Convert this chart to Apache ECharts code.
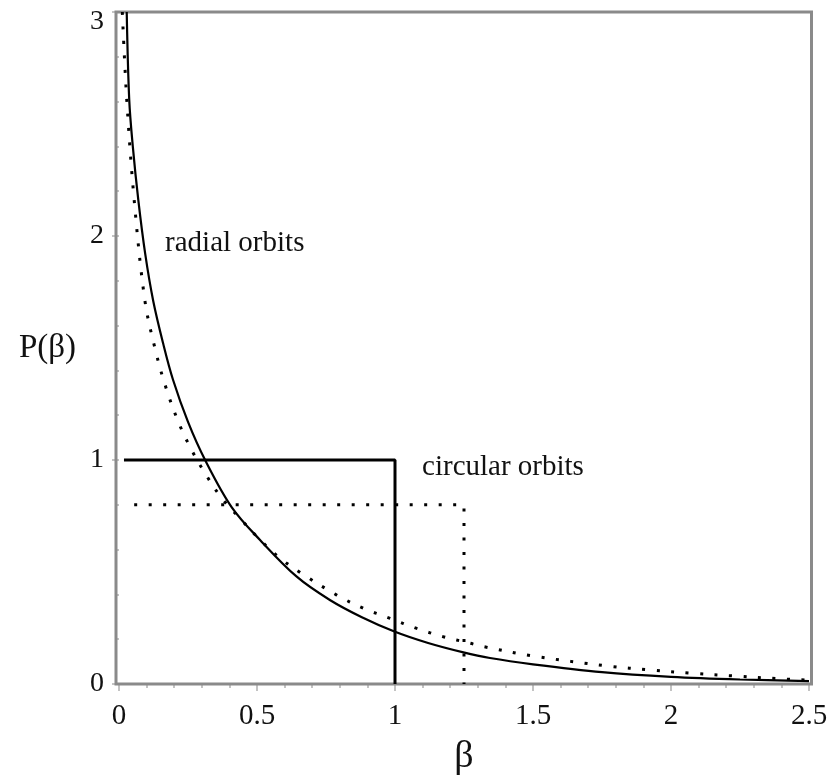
<!DOCTYPE html>
<html>
<head>
<meta charset="utf-8">
<script src="https://cdn.jsdelivr.net/npm/echarts@6/dist/echarts.min.js"></script>
<style>
  html, body { margin: 0; padding: 0; background: #fff; }
  #chart { width: 829px; height: 780px; }
</style>
</head>
<body>
<div id="chart"></div>
<script>
// ---- data ----
const xTicks = [0, 0.5, 1, 1.5, 2, 2.5];
const yTicks = [0, 1, 2, 3];

// solid curve: P(beta) for radial orbits
const radialSolid = [
  [0.028, 3.0], [0.037, 2.61], [0.05, 2.40], [0.07, 2.16], [0.095, 1.92], [0.124, 1.71],
  [0.16, 1.52], [0.196, 1.357], [0.25, 1.17], [0.312, 1.0], [0.408, 0.79],
  [0.511, 0.643], [0.644, 0.479], [0.764, 0.375], [0.88, 0.298], [1.0, 0.233],
  [1.12, 0.183], [1.248, 0.141], [1.344, 0.116], [1.5, 0.088], [1.75, 0.053],
  [2.0, 0.032], [2.25, 0.02], [2.5, 0.013]
];

// dotted curve
const radialDotted = [
  [0.012, 3.0], [0.028, 2.61], [0.055, 2.16], [0.094, 1.71], [0.13, 1.50],
  [0.167, 1.335], [0.215, 1.17], [0.263, 1.045], [0.312, 0.94], [0.372, 0.83],
  [0.438, 0.74], [0.51, 0.645], [0.583, 0.5625], [0.66, 0.495], [0.789, 0.397],
  [0.885, 0.338], [0.982, 0.293], [1.079, 0.248], [1.175, 0.211], [1.272, 0.182],
  [1.32, 0.167], [1.5, 0.125], [1.773, 0.08], [1.924, 0.0625], [2.075, 0.048],
  [2.226, 0.036], [2.383, 0.024], [2.5, 0.017]
];

// step functions: circular orbits
const circularSolid = [[0.018, 1.0], [1.0, 1.0], [1.0, 0.0]];
const circularDotted = [[0.055, 0.8], [1.25, 0.8], [1.25, 0.0]];

// annotations (data coordinates of text anchor)
const annotations = [
  { name: 'radial orbits', value: [0.167, 1.965] },
  { name: 'circular orbits', value: [1.098, 0.969] }
];

const serif = "'Liberation Serif', 'DejaVu Serif', serif";
const tickColor = '#b0b0b0';
const labelColor = '#111';

const chart = echarts.init(document.getElementById('chart'));
chart.setOption({
  animation: false,
  backgroundColor: '#fff',
  grid: [
    { left: 119, right: 20, top: 12, bottom: 96, outerBoundsMode: 'none' },
    { left: 116, right: 17.5, top: 12, bottom: 96, show: true, borderColor: '#8a8a8a',
      borderWidth: 3, backgroundColor: 'transparent', outerBoundsMode: 'none', z: 1 }
  ],
  xAxis: [
    {
      type: 'value', gridIndex: 0, min: 0, max: 2.5, interval: 0.5,
      name: 'β', nameLocation: 'middle', nameGap: 54, nameMoveOverlap: false,
      nameTextStyle: { fontFamily: serif, fontSize: 38, color: labelColor },
      axisLine: { show: false },
      axisTick: { show: true, inside: false, length: 7, lineStyle: { color: tickColor, width: 1.5 } },
      minorTick: { show: true, splitNumber: 5, length: 4, lineStyle: { color: tickColor, width: 1.5 } },
      splitLine: { show: false },
      minorSplitLine: { show: false },
      axisLabel: {
        fontFamily: serif, fontSize: 29, color: labelColor, margin: 18,
        formatter: v => String(v)
      }
    },
    { type: 'value', gridIndex: 1, show: false, min: 0, max: 1 }
  ],
  yAxis: [
    {
      type: 'value', gridIndex: 0, min: 0, max: 3, interval: 1, offset: 3,
      name: 'P(β)', nameLocation: 'middle', nameRotate: 0, nameGap: 40, nameMoveOverlap: false,
      nameTextStyle: { fontFamily: serif, fontSize: 33, color: labelColor, align: 'right',
        verticalAlign: 'middle', padding: [8, 0, 0, 0] },
      axisLine: { show: false },
      axisTick: { show: true, inside: false, length: 7, lineStyle: { color: tickColor, width: 1.5 } },
      minorTick: { show: true, splitNumber: 5, length: 3, lineStyle: { color: tickColor, width: 1.5 } },
      splitLine: { show: false },
      minorSplitLine: { show: false },
      axisLabel: {
        fontFamily: serif, fontSize: 28, color: labelColor, margin: 12,
        formatter: v => (v === 3 ? '{top|3}' : String(v)),
        rich: { top: { fontFamily: serif, fontSize: 28, color: labelColor, padding: [19, 0, 0, 0] } }
      }
    },
    { type: 'value', gridIndex: 1, show: false, min: 0, max: 1 }
  ],
  series: [
    {
      type: 'line', xAxisIndex: 0, yAxisIndex: 0, data: radialSolid,
      showSymbol: false, smooth: 0.35, z: 5,
      lineStyle: { color: '#000', width: 2.2 }
    },
    {
      type: 'line', xAxisIndex: 0, yAxisIndex: 0, data: radialDotted,
      showSymbol: false, smooth: 0.35, z: 5,
      lineStyle: { color: '#000', width: 3, type: [3, 11.5], cap: 'butt' }
    },
    {
      type: 'line', xAxisIndex: 0, yAxisIndex: 0, data: circularSolid,
      showSymbol: false, z: 5,
      lineStyle: { color: '#000', width: 3 }
    },
    {
      type: 'line', xAxisIndex: 0, yAxisIndex: 0, data: circularDotted,
      showSymbol: false, z: 5,
      lineStyle: { color: '#000', width: 3, type: [3, 11.5], cap: 'butt' }
    },
    {
      type: 'scatter', xAxisIndex: 0, yAxisIndex: 0, symbolSize: 0, z: 6,
      itemStyle: { opacity: 1 },
      data: annotations,
      label: {
        show: true, position: 'right', distance: 0,
        formatter: p => p.name,
        fontFamily: serif, fontSize: 29, color: labelColor
      }
    }
  ]
});
</script>
</body>
</html>
